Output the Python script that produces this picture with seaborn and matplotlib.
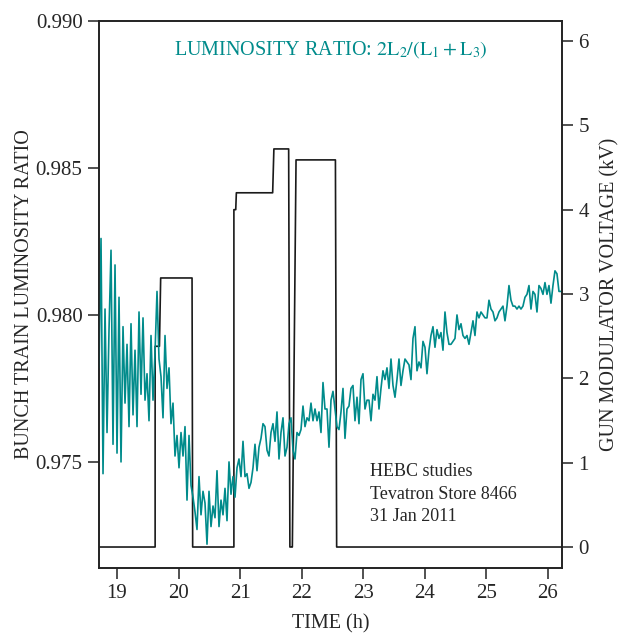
import numpy as np
import pandas as pd
import matplotlib
matplotlib.use("Agg")
import matplotlib.pyplot as plt
import seaborn as sns

# %% Datos

# razon de luminosidad (curva verde), una muestra cada ~2 min
t_inicio = 18.708
t_paso = 0.0325
razon = [
    0.9782, 0.9826, 0.9746, 0.9802, 0.9760, 0.9795, 0.9822, 0.9756, 0.9817, 0.9753,
    0.9806, 0.9750, 0.9796, 0.9770, 0.9790, 0.9762, 0.9797, 0.9766, 0.9788, 0.9762,
    0.9801, 0.9773, 0.9799, 0.9771, 0.9780, 0.9764, 0.9793, 0.9771, 0.9787, 0.9808,
    0.9785, 0.9779, 0.9765, 0.9793, 0.9775, 0.9782, 0.9763, 0.9770, 0.9752, 0.9759,
    0.9748, 0.9760, 0.9752, 0.9762, 0.9737, 0.9759, 0.9742, 0.9738, 0.9733, 0.9727,
    0.9745, 0.9732, 0.9740, 0.9736, 0.9722, 0.9740, 0.9728, 0.9735, 0.9731, 0.9747,
    0.9728, 0.9737, 0.9732, 0.9741, 0.9730, 0.9750, 0.9739, 0.9745, 0.9738, 0.9748,
    0.9751, 0.9745, 0.9757, 0.9745, 0.9746, 0.9741, 0.9743, 0.9748, 0.9756, 0.9747,
    0.9755, 0.9758, 0.9763, 0.9762, 0.9754, 0.9752, 0.9760, 0.9763, 0.9757, 0.9767,
    0.9751, 0.9760, 0.9765, 0.9752, 0.9755, 0.9763, 0.9765, 0.9754, 0.9751, 0.9760,
    0.9759, 0.9761, 0.9769, 0.9762, 0.9765, 0.9764, 0.9770, 0.9764, 0.9768, 0.9764,
    0.9767, 0.9760, 0.9777, 0.9768, 0.9768, 0.9755, 0.9771, 0.9774, 0.9768, 0.9762,
    0.9761, 0.9767, 0.9775, 0.9758, 0.9768, 0.9769, 0.9775, 0.9776, 0.9764, 0.9772,
    0.9763, 0.9778, 0.9780, 0.9768, 0.9771, 0.9771, 0.9764, 0.9773, 0.9771, 0.9779,
    0.9768, 0.9775, 0.9781, 0.9778, 0.9782, 0.9775, 0.9785, 0.9776, 0.9772, 0.9778,
    0.9785, 0.9776, 0.9781, 0.9785, 0.9784, 0.9783, 0.9778, 0.9792, 0.9796, 0.9781,
    0.9784, 0.9782, 0.9791, 0.9789, 0.9780, 0.9788, 0.9793, 0.9796, 0.9789, 0.9795,
    0.9792, 0.9794, 0.9788, 0.9801, 0.9794, 0.9790, 0.9790, 0.9791, 0.9792, 0.9800,
    0.9795, 0.9797, 0.9793, 0.9792, 0.9793, 0.9790, 0.9794, 0.9798, 0.9793, 0.9801,
    0.9799, 0.9801, 0.9800, 0.9799, 0.9799, 0.9805, 0.9802, 0.9801, 0.9798, 0.9799,
    0.9801, 0.9802, 0.9803, 0.9798, 0.9803, 0.9810, 0.9805, 0.9803, 0.9803, 0.9802,
    0.9803, 0.9802, 0.9803, 0.9806, 0.9807, 0.9810, 0.9802, 0.9808, 0.9807, 0.9801,
    0.9810, 0.9809, 0.9807, 0.9811, 0.9807, 0.9810, 0.9804, 0.9810, 0.9815, 0.9814,
    0.9808, 0.9808,
]

# tension del modulador (curva negra, escalones)
t_tension = [18.70, 19.62, 19.62, 19.69, 19.71, 20.22, 20.23, 20.90, 20.90, 20.93,
             20.94, 21.53, 21.55, 21.79, 21.81, 21.84, 21.85, 21.91, 22.55, 22.57, 26.24]
tension = [0.0, 0.0, 2.38, 2.38, 3.19, 3.19, 0.0, 0.0, 4.0, 4.0,
           4.2, 4.2, 4.72, 4.72, 0.0, 0.0, 0.0, 4.59, 4.59, 0.0, 0.0]

ticks_x = [19, 20, 21, 22, 23, 24, 25, 26]
ticks_razon = [0.975, 0.980, 0.985, 0.990]
ticks_kv = [0, 1, 2, 3, 4, 5, 6]

# %% Armado de los DataFrames
tiempos = t_inicio + t_paso * np.arange(len(razon))
df_razon = pd.DataFrame({'t': tiempos, 'razon': razon})
df_tension = pd.DataFrame({'t': t_tension, 'kv': tension})

# %% Grafico
sns.set_style("ticks")
plt.rcParams['font.family'] = ['Liberation Serif', 'DejaVu Serif']
plt.rcParams['mathtext.fontset'] = 'stix'

fig = plt.figure(figsize=(6.41, 6.36), dpi=100)
ax = fig.add_axes([0.1537, 0.1069, 0.7238, 0.8601])
ax2 = ax.twinx()

sns.lineplot(data=df_tension, x='t', y='kv', ax=ax2, color='#1a1a1a', lw=1.2,
             estimator=None, sort=False)
sns.lineplot(data=df_razon, x='t', y='razon', ax=ax, color='#008b8b', lw=1.2,
             estimator=None, sort=False)

# la curva verde por encima de la negra
ax.set_zorder(ax2.get_zorder() + 1)
ax.patch.set_visible(False)

ax.set_xlim(18.70, 26.24)
ax.set_ylim(0.97139, 0.990)
ax2.set_ylim(-0.249, 6.237)

ax.set_xticks(ticks_x)
ax.set_yticks(ticks_razon)
ax.set_yticklabels([f'{v:.3f}' for v in ticks_razon])
ax2.set_yticks(ticks_kv)

for a in (ax, ax2):
    a.tick_params(labelsize=15, length=8, width=1.1, color='#222222')
    for s in a.spines.values():
        s.set_linewidth(1.2)
        s.set_color('#222222')

ax.set_xlabel('TIME (h)', fontsize=14.5, labelpad=8)
ax.set_ylabel('BUNCH TRAIN LUMINOSITY RATIO', fontsize=14.5, labelpad=1)
ax2.set_ylabel('GUN MODULATOR VOLTAGE (kV)', fontsize=14.5, labelpad=8)

ax.text(0.5, 0.947, r'LUMINOSITY RATIO: $2\mathrm{L}_2/(\mathrm{L}_1+\mathrm{L}_3)$',
        transform=ax.transAxes, ha='center', va='center', color='#008b8b', fontsize=14.5)
ax.text(0.585, 0.135, 'HEBC studies\nTevatron Store 8466\n31 Jan 2011',
        transform=ax.transAxes, ha='left', va='center', fontsize=13, linespacing=1.4)

fig.savefig('out.png', dpi=100)
